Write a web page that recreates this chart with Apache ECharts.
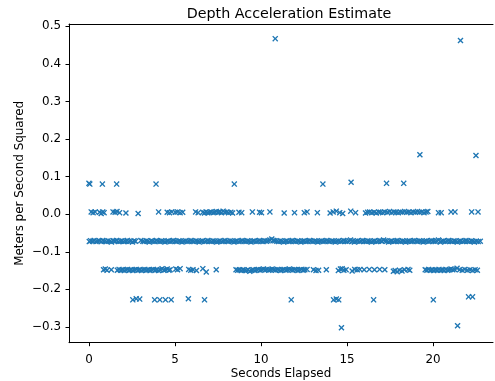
<!DOCTYPE html>
<html>
<head>
<meta charset="utf-8">
<script src="https://cdn.jsdelivr.net/npm/echarts@6/dist/echarts.min.js"></script>
<style>
html, body { margin: 0; padding: 0; background: #fff; }
#main { width: 495px; height: 381px; }
</style>
</head>
<body>
<div id="main"></div>
<script>
// [seconds elapsed, m/s^2], grouped by the band each point sits in
var band_main = [
    [0.02,-0.073],[0.10,-0.071],[0.21,-0.072],[0.30,-0.070],[0.41,-0.073],[0.50,-0.072],[0.61,-0.071],[0.72,-0.073],
    [0.80,-0.070],[0.91,-0.072],[1.02,-0.073],[1.11,-0.071],[1.22,-0.072],[1.31,-0.074],[1.43,-0.071],[1.52,-0.072],
    [1.60,-0.070],[1.71,-0.073],[1.83,-0.072],[1.92,-0.071],[2.01,-0.073],[2.12,-0.072],[2.23,-0.070],[2.31,-0.073],
    [2.42,-0.072],[2.53,-0.074],[2.62,-0.071],[2.71,-0.072],[3.02,-0.070],[3.13,-0.072],[3.21,-0.073],[3.33,-0.071],
    [3.42,-0.072],[3.51,-0.074],[3.62,-0.071],[3.71,-0.072],[3.83,-0.073],[3.92,-0.070],[4.01,-0.072],[4.13,-0.073],
    [4.22,-0.071],[4.31,-0.072],[4.42,-0.074],[4.53,-0.072],[4.61,-0.071],[4.72,-0.073],[4.83,-0.072],[4.91,-0.070],
    [5.02,-0.072],[5.11,-0.073],[5.23,-0.071],[5.32,-0.072],[5.41,-0.074],[5.52,-0.072],[5.63,-0.071],[5.71,-0.073],
    [5.82,-0.072],[5.93,-0.070],[6.02,-0.072],[6.11,-0.073],[6.22,-0.071],[6.33,-0.072],[6.41,-0.074],[6.52,-0.072],
    [6.61,-0.071],[6.73,-0.073],[6.82,-0.072],[6.91,-0.070],[7.02,-0.072],[7.13,-0.073],[7.21,-0.071],[7.32,-0.072],
    [7.43,-0.074],[7.51,-0.072],[7.62,-0.071],[7.73,-0.073],[7.82,-0.072],[7.91,-0.070],[8.03,-0.072],[8.12,-0.073],
    [8.21,-0.071],[8.32,-0.072],[8.43,-0.074],[8.52,-0.072],[8.61,-0.071],[8.72,-0.073],[8.83,-0.072],[8.91,-0.070],
    [9.02,-0.072],[9.13,-0.073],[9.22,-0.071],[9.31,-0.072],[9.42,-0.074],[9.53,-0.072],[9.61,-0.071],[9.72,-0.073],
    [9.83,-0.072],[9.92,-0.070],[10.01,-0.072],[10.12,-0.073],[10.23,-0.071],[10.32,-0.072],[10.41,-0.071],[10.52,-0.069],
    [10.63,-0.066],[10.72,-0.070],[10.81,-0.071],[10.92,-0.072],[11.03,-0.073],[11.12,-0.071],[11.21,-0.072],[11.32,-0.074],
    [11.43,-0.072],[11.51,-0.071],[11.62,-0.073],[11.73,-0.072],[11.82,-0.070],[11.91,-0.072],[12.02,-0.073],[12.13,-0.071],
    [12.21,-0.072],[12.32,-0.074],[12.43,-0.072],[12.52,-0.071],[12.61,-0.073],[12.72,-0.072],[12.83,-0.070],[12.91,-0.072],
    [13.02,-0.073],[13.13,-0.071],[13.22,-0.072],[13.31,-0.074],[13.42,-0.072],[13.53,-0.071],[13.61,-0.073],[13.72,-0.072],
    [13.83,-0.070],[13.92,-0.072],[14.01,-0.073],[14.12,-0.071],[14.23,-0.072],[14.32,-0.074],[14.41,-0.072],[14.52,-0.071],
    [14.63,-0.073],[14.72,-0.072],[14.81,-0.070],[14.92,-0.072],[15.03,-0.073],[15.12,-0.071],[15.21,-0.069],[15.32,-0.072],
    [15.43,-0.074],[15.51,-0.072],[15.62,-0.071],[15.73,-0.073],[15.82,-0.072],[15.91,-0.070],[16.02,-0.072],[16.13,-0.073],
    [16.21,-0.071],[16.32,-0.072],[16.43,-0.074],[16.52,-0.072],[16.61,-0.071],[16.72,-0.073],[16.83,-0.072],[16.91,-0.070],
    [17.02,-0.072],[17.13,-0.069],[17.22,-0.071],[17.31,-0.072],[17.42,-0.074],[17.53,-0.072],[17.61,-0.071],[17.72,-0.073],
    [17.83,-0.072],[17.92,-0.070],[18.01,-0.072],[18.12,-0.073],[18.23,-0.071],[18.32,-0.072],[18.41,-0.074],[18.52,-0.072],
    [18.63,-0.071],[18.72,-0.073],[18.81,-0.072],[18.92,-0.070],[19.03,-0.072],[19.12,-0.073],[19.21,-0.071],[19.32,-0.072],
    [19.43,-0.074],[19.51,-0.072],[19.62,-0.071],[19.73,-0.073],[19.82,-0.072],[19.91,-0.070],[20.02,-0.072],[20.13,-0.073],
    [20.21,-0.071],[20.32,-0.069],[20.43,-0.074],[20.52,-0.072],[20.61,-0.071],[20.72,-0.073],[20.83,-0.072],[20.91,-0.070],
    [21.02,-0.072],[21.13,-0.073],[21.22,-0.071],[21.31,-0.072],[21.42,-0.074],[21.53,-0.072],[21.61,-0.071],[21.72,-0.073],
    [21.83,-0.072],[21.92,-0.070],[22.01,-0.072],[22.12,-0.073],[22.23,-0.071],[22.32,-0.072],[22.41,-0.074],[22.52,-0.072],
    [22.63,-0.073],[22.75,-0.072]
];
var band_zero = [
    [0.13,0.006],[0.24,0.004],[0.36,0.006],[0.62,0.005],[0.71,0.002],[0.80,0.006],[0.88,0.004],[1.40,0.006],
    [1.52,0.005],[1.63,0.007],[1.78,0.004],[2.15,0.003],[2.86,0.002],[4.05,0.006],[4.55,0.005],[4.68,0.004],
    [4.82,0.006],[5.02,0.005],[5.15,0.006],[5.30,0.004],[5.45,0.005],[6.20,0.006],[6.35,0.004],[6.62,0.005],
    [6.72,0.003],[6.81,0.006],[6.90,0.004],[7.00,0.005],[7.10,0.006],[7.22,0.004],[7.31,0.005],[7.40,0.007],
    [7.52,0.005],[7.61,0.006],[7.70,0.004],[7.80,0.008],[7.90,0.005],[8.02,0.006],[8.12,0.004],[8.25,0.005],
    [8.35,0.003],[8.72,0.005],[8.88,0.004],[9.50,0.006],[9.92,0.005],[10.03,0.004],[10.52,0.006],[11.35,0.003],
    [11.95,0.004],[12.52,0.004],[12.68,0.006],[13.28,0.004],[14.02,0.003],[14.20,0.006],[14.38,0.008],[14.58,0.004],
    [14.75,0.002],[15.22,0.008],[15.50,0.004],[16.08,0.003],[16.20,0.005],[16.32,0.006],[16.45,0.004],[16.58,0.005],
    [16.70,0.003],[16.85,0.006],[16.95,0.005],[17.08,0.004],[17.20,0.006],[17.35,0.005],[17.48,0.007],[17.60,0.004],
    [17.72,0.006],[17.85,0.005],[17.98,0.004],[18.10,0.006],[18.22,0.005],[18.35,0.007],[18.48,0.005],[18.60,0.006],
    [18.72,0.004],[18.85,0.006],[18.98,0.005],[19.10,0.007],[19.22,0.005],[19.35,0.006],[19.48,0.004],[19.60,0.006],
    [19.70,0.007],[20.32,0.004],[20.48,0.004],[21.05,0.006],[21.28,0.006],[22.25,0.006],[22.62,0.006]
];
var band_low = [
    [0.85,-0.148],[0.95,-0.146],[1.05,-0.149],[1.30,-0.148],[1.65,-0.149],[1.75,-0.147],[1.85,-0.149],[1.95,-0.148],
    [2.05,-0.150],[2.15,-0.148],[2.25,-0.147],[2.35,-0.149],[2.45,-0.148],[2.55,-0.150],[2.65,-0.148],[2.75,-0.147],
    [2.85,-0.149],[2.95,-0.148],[3.05,-0.150],[3.15,-0.148],[3.25,-0.147],[3.35,-0.149],[3.45,-0.148],[3.55,-0.150],
    [3.65,-0.148],[3.75,-0.147],[3.85,-0.149],[3.95,-0.148],[4.05,-0.150],[4.15,-0.148],[4.25,-0.145],[4.35,-0.149],
    [4.45,-0.148],[4.55,-0.146],[4.65,-0.149],[4.72,-0.148],[5.05,-0.146],[5.15,-0.148],[5.30,-0.145],[5.80,-0.147],
    [5.92,-0.149],[6.05,-0.148],[6.25,-0.150],[6.62,-0.145],[6.82,-0.154],[7.40,-0.148],[8.55,-0.148],[8.65,-0.149],
    [8.75,-0.148],[8.85,-0.150],[8.95,-0.148],[9.05,-0.149],[9.15,-0.150],[9.25,-0.148],[9.35,-0.152],[9.45,-0.149],
    [9.55,-0.148],[9.65,-0.150],[9.75,-0.148],[9.85,-0.147],[9.95,-0.149],[10.05,-0.148],[10.15,-0.146],[10.25,-0.148],
    [10.35,-0.147],[10.45,-0.149],[10.55,-0.148],[10.65,-0.146],[10.75,-0.148],[10.85,-0.149],[10.95,-0.147],[11.05,-0.148],
    [11.15,-0.150],[11.25,-0.148],[11.35,-0.147],[11.45,-0.149],[11.55,-0.148],[11.65,-0.146],[11.75,-0.148],[11.85,-0.149],
    [11.95,-0.147],[12.05,-0.148],[12.15,-0.150],[12.25,-0.148],[12.35,-0.147],[12.45,-0.149],[12.55,-0.148],[12.68,-0.147],
    [13.05,-0.148],[13.20,-0.150],[13.35,-0.149],[13.80,-0.148],[14.50,-0.150],[14.62,-0.146],[14.72,-0.145],[14.82,-0.149],
    [14.95,-0.148],[15.30,-0.151],[15.45,-0.147],[15.60,-0.148],[15.75,-0.147],[16.00,-0.148],[16.30,-0.147],[16.60,-0.148],
    [16.90,-0.147],[17.20,-0.148],[17.70,-0.152],[17.80,-0.150],[17.92,-0.153],[18.05,-0.149],[18.20,-0.151],[18.35,-0.148],
    [18.55,-0.147],[18.65,-0.149],[19.55,-0.148],[19.65,-0.149],[19.75,-0.147],[19.85,-0.149],[19.95,-0.148],[20.05,-0.150],
    [20.15,-0.148],[20.25,-0.149],[20.35,-0.147],[20.45,-0.149],[20.55,-0.148],[20.65,-0.150],[20.75,-0.147],[20.85,-0.149],
    [20.95,-0.148],[21.05,-0.146],[21.15,-0.148],[21.25,-0.147],[21.40,-0.144],[21.55,-0.148],[21.70,-0.149],[21.85,-0.147],
    [22.00,-0.149],[22.15,-0.148],[22.30,-0.150],[22.45,-0.148],[22.58,-0.149]
];
var band_lower = [
    [2.55,-0.228],[2.75,-0.225],[2.95,-0.226],[3.82,-0.228],[4.12,-0.228],[4.45,-0.228],[4.78,-0.228],[5.78,-0.225],
    [6.72,-0.228],[11.76,-0.228],[14.22,-0.228],[14.38,-0.226],[14.52,-0.228],[16.55,-0.228],[20.02,-0.228],[22.07,-0.220],
    [22.30,-0.220]
];
var band_high = [
    [0.00,0.082],[0.05,0.080],[0.78,0.080],[1.61,0.080],[3.90,0.080],[8.45,0.080],[13.60,0.080],[15.24,0.085],
    [17.30,0.082],[18.30,0.082]
];
var outliers = [
    [10.83,0.467],[21.60,0.462],[19.24,0.158],[22.50,0.156],[14.68,-0.302],[21.43,-0.297]
];

var x_ticks = [0, 5, 10, 15, 20];
var y_ticks = [-0.3, -0.2, -0.1, 0.0, 0.1, 0.2, 0.3, 0.4, 0.5];

var all_points = [].concat(band_main, band_zero, band_low, band_lower, band_high, outliers);

// matplotlib style 'x' marker
var x_marker = 'path://M0,1.6L1.6,0L5,3.4L8.4,0L10,1.6L6.6,5L10,8.4L8.4,10L5,6.6L1.6,10L0,8.4L3.4,5Z';
var font = 'DejaVu Sans';
var spine = { show: true, onZero: false, lineStyle: { color: '#000', width: 1 } };

var myChart = echarts.init(document.getElementById('main'));
var option = {
    animation: false,
    backgroundColor: '#fff',
    title: {
        text: 'Depth Acceleration Estimate',
        left: 284,
        top: 2,
        textAlign: 'center',
        textStyle: { fontFamily: font, fontSize: 14.3, fontWeight: 'normal', color: '#000' }
    },
    // the figure is cut off on the right, so no right spine shows
    grid: { left: 69, top: 24, right: 2, bottom: 38.3, outerBoundsMode: 'none' },
    xAxis: [{
        type: 'value',
        position: 'bottom',
        min: -1.16,
        max: 23.49,
        name: 'Seconds Elapsed',
        nameLocation: 'middle',
        nameGap: 25,
        nameMoveOverlap: false,
        nameTextStyle: { fontFamily: font, fontSize: 11.9, color: '#000' },
        axisLine: spine,
        splitLine: { show: false },
        axisTick: { show: true, inside: false, length: 3.5, customValues: x_ticks, lineStyle: { color: '#000' } },
        axisLabel: {
            customValues: x_ticks, margin: 11,
            fontFamily: font, fontSize: 11.9, color: '#000'
        }
    }, {
        type: 'value',
        position: 'top',
        min: -1.16,
        max: 23.49,
        axisLine: spine,
        axisTick: { show: false },
        axisLabel: { show: false },
        splitLine: { show: false }
    }],
    yAxis: {
        type: 'value',
        min: -0.342,
        max: 0.506,
        name: 'Meters per Second Squared',
        nameLocation: 'middle',
        nameGap: 43,
        nameMoveOverlap: false,
        nameTextStyle: { fontFamily: font, fontSize: 11.9, color: '#000' },
        axisLine: spine,
        splitLine: { show: false },
        axisTick: { show: true, inside: false, length: 3.5, customValues: y_ticks, lineStyle: { color: '#000' } },
        axisLabel: {
            customValues: y_ticks, margin: 8,
            fontFamily: font, fontSize: 11.9, color: '#000',
            formatter: function (v) { return v.toFixed(1).replace('-', '\u2212'); }
        }
    },
    series: [{
        type: 'scatter',
        xAxisIndex: 0,
        data: all_points,
        symbol: x_marker,
        symbolSize: 6,
        itemStyle: { color: '#1f77b4', opacity: 1 }
    }]
};
myChart.setOption(option);
</script>
</body>
</html>
